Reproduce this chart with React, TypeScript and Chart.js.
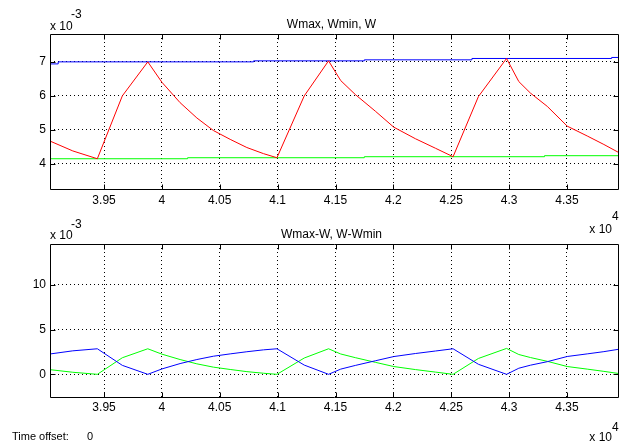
import React, { useEffect, useRef } from 'react';
import { Chart, registerables } from 'chart.js';

Chart.register(...registerables);

const FONT = '"Liberation Sans", Arial, Helvetica, sans-serif';

// ---- shared time axis (units of 10^4) ----
const xMin = 3.9033;
const xMax = 4.3941;
const xTicks = [3.95, 4.0, 4.05, 4.1, 4.15, 4.2, 4.25, 4.3, 4.35];

// ---- top panel: Wmax, Wmin, W (units of 10^-3) ----
const topYMin = 3.26;
const topYMax = 7.82;
const topYTicks = [4, 5, 6, 7];

const wTime = [
  3.9033, 3.923, 3.9442, 3.9658, 3.9878, 4.0, 4.0157, 4.0302, 4.0445, 4.059,
  4.0734, 4.0878, 4.0994, 4.123, 4.144, 4.1545, 4.1671, 4.1844, 4.2003, 4.219,
  4.2363, 4.2516, 4.2735, 4.2978, 4.3084, 4.3185, 4.333, 4.3502, 4.3675, 4.3819,
  4.3949,
];
const wValues = [
  4.67, 4.38, 4.15, 6.0, 7.0, 6.4, 5.8, 5.35, 4.98, 4.72,
  4.48, 4.3, 4.18, 6.0, 7.03, 6.45, 6.04, 5.55, 5.08, 4.74,
  4.46, 4.21, 5.98, 7.1, 6.42, 6.08, 5.69, 5.11, 4.82, 4.57,
  4.33,
];

const wmaxTime = [3.9033, 3.9104, 4.0792, 4.1749, 4.2679, 4.3886, 4.3941];
const wmaxValues = [6.94, 7.0, 7.03, 7.06, 7.1, 7.13, 7.13];

const wminTime = [3.9033, 4.0222, 4.1749, 4.3306, 4.3941];
const wminValues = [4.15, 4.18, 4.21, 4.24, 4.24];

// ---- bottom panel: Wmax-W, W-Wmin (units of 10^-3) ----
const botYMin = -2.53;
const botYMax = 14.54;
const botYTicks = [0, 5, 10];

const maxMinusW = [
  2.27, 2.62, 2.85, 1.0, 0.0, 0.6, 1.2, 1.65, 2.02, 2.28,
  2.52, 2.73, 2.85, 1.03, 0.0, 0.58, 0.99, 1.51, 1.98, 2.32,
  2.6, 2.85, 1.12, 0.0, 0.68, 1.02, 1.41, 1.99, 2.28, 2.53,
  2.8,
];
const wMinusMin = [
  0.52, 0.23, 0.0, 1.85, 2.85, 2.25, 1.65, 1.17, 0.8, 0.54,
  0.3, 0.12, 0.0, 1.82, 2.85, 2.27, 1.86, 1.34, 0.87, 0.53,
  0.25, 0.0, 1.77, 2.89, 2.21, 1.87, 1.45, 0.87, 0.58, 0.33,
  0.09,
];

const fmt = (v: number) => String(parseFloat(Number(v).toFixed(2)));

const pts = (xs: number[], ys: number[]) => xs.map((x, i) => ({ x, y: ys[i] }));

const axesBox = {
  id: 'axesBox',
  afterDraw(chart: any) {
    const { ctx, chartArea: a, scales } = chart;
    const L = Math.floor(a.left) + 0.5;
    const R = Math.floor(a.right) + 0.5;
    const T = Math.floor(a.top) + 0.5;
    const B = Math.floor(a.bottom) + 0.5;
    const len = 5;
    ctx.save();
    ctx.strokeStyle = '#000';
    ctx.lineWidth = 1;
    ctx.setLineDash([]);
    ctx.beginPath();
    ctx.rect(L, T, R - L, B - T);
    ctx.stroke();
    ctx.beginPath();
    for (const t of scales.x.ticks) {
      const px = Math.round(scales.x.getPixelForValue(t.value)) + 0.5;
      ctx.moveTo(px, B);
      ctx.lineTo(px, B - len);
      ctx.moveTo(px, T);
      ctx.lineTo(px, T + len);
    }
    for (const t of scales.y.ticks) {
      const py = Math.round(scales.y.getPixelForValue(t.value)) + 0.5;
      ctx.moveTo(L, py);
      ctx.lineTo(L + len, py);
      ctx.moveTo(R, py);
      ctx.lineTo(R - len, py);
    }
    ctx.stroke();
    ctx.restore();
  },
};

function buildConfig(
  datasets: any[],
  yMin: number,
  yMax: number,
  yTicks: number[],
  padTop: number,
  padBottom: number,
  xLabelPad: number
): any {
  const gridOpts = { color: '#000', lineWidth: 1, drawTicks: false };
  const borderOpts = { display: false, dash: [1, 3] };
  const tickFont = { family: FONT, size: 12 };
  return {
    type: 'line',
    data: { datasets },
    options: {
      animation: false,
      responsive: false,
      devicePixelRatio: 1,
      events: [],
      layout: { padding: { top: padTop, bottom: padBottom, left: 0, right: 1 } },
      plugins: {
        legend: { display: false },
        tooltip: { enabled: false },
        title: { display: false },
      },
      elements: {
        point: { radius: 0 },
        line: { tension: 0, borderWidth: 1, fill: false },
      },
      scales: {
        x: {
          type: 'linear',
          min: xMin,
          max: xMax,
          afterBuildTicks: (s: any) => {
            s.ticks = xTicks.map((v) => ({ value: v }));
          },
          afterFit: (s: any) => {
            s.height = 30;
          },
          grid: gridOpts,
          border: borderOpts,
          ticks: {
            color: '#000',
            font: tickFont,
            padding: xLabelPad,
            maxRotation: 0,
            autoSkip: false,
            callback: (v: any) => fmt(v),
          },
        },
        y: {
          type: 'linear',
          min: yMin,
          max: yMax,
          afterBuildTicks: (s: any) => {
            s.ticks = yTicks.map((v) => ({ value: v }));
          },
          afterFit: (s: any) => {
            s.width = 50;
          },
          grid: gridOpts,
          border: borderOpts,
          ticks: {
            color: '#000',
            font: tickFont,
            padding: 4,
            autoSkip: false,
            callback: (v: any) => fmt(v),
          },
        },
      },
    },
    plugins: [axesBox],
  };
}

const txt = (extra: React.CSSProperties): React.CSSProperties => ({
  position: 'absolute',
  fontFamily: FONT,
  fontSize: 12,
  lineHeight: '14px',
  color: '#000',
  whiteSpace: 'pre',
  ...extra,
});

export default function App() {
  const topRef = useRef<HTMLCanvasElement>(null);
  const botRef = useRef<HTMLCanvasElement>(null);

  useEffect(() => {
    const topChart = new Chart(
      topRef.current as HTMLCanvasElement,
      buildConfig(
        [
          { label: 'W', data: pts(wTime, wValues), borderColor: '#ff0000' },
          { label: 'Wmax', data: pts(wmaxTime, wmaxValues), borderColor: '#0000ff', stepped: 'before' },
          { label: 'Wmin', data: pts(wminTime, wminValues), borderColor: '#00ff00', stepped: 'before' },
        ],
        topYMin,
        topYMax,
        topYTicks,
        34,
        4,
        4
      )
    );
    const botChart = new Chart(
      botRef.current as HTMLCanvasElement,
      buildConfig(
        [
          { label: 'Wmax-W', data: pts(wTime, maxMinusW), borderColor: '#0000ff' },
          { label: 'W-Wmin', data: pts(wTime, wMinusMin), borderColor: '#00ff00' },
        ],
        botYMin,
        botYMax,
        botYTicks,
        21,
        19,
        3
      )
    );
    return () => {
      topChart.destroy();
      botChart.destroy();
    };
  }, []);

  return (
    <div
      style={{
        position: 'fixed',
        left: 0,
        top: 0,
        width: 619,
        height: 446,
        background: '#fff',
        overflow: 'hidden',
      }}
    >
      <canvas
        ref={topRef}
        width={619}
        height={223}
        style={{ position: 'absolute', left: 0, top: 0, width: 619, height: 223 }}
      />
      <canvas
        ref={botRef}
        width={619}
        height={223}
        style={{ position: 'absolute', left: 0, top: 223, width: 619, height: 223 }}
      />

      {/* top panel texts */}
      <span style={txt({ left: 50, top: 18.5 })}>x 10</span>
      <span style={txt({ left: 71, top: 7 })}>-3</span>
      <span style={txt({ left: 331.5, top: 17, transform: 'translateX(-50%)' })}>Wmax, Wmin, W</span>
      <span style={txt({ right: 7, top: 221.5 })}>x 10</span>
      <span style={txt({ left: 612, top: 209 })}>4</span>

      {/* bottom panel texts */}
      <span style={txt({ left: 50, top: 227.5 })}>x 10</span>
      <span style={txt({ left: 71, top: 217 })}>-3</span>
      <span style={txt({ left: 331.5, top: 227, transform: 'translateX(-50%)' })}>Wmax-W, W-Wmin</span>
      <span style={txt({ right: 7, top: 429.5 })}>x 10</span>
      <span style={txt({ left: 612, top: 420 })}>4</span>

      <span style={txt({ left: 12, top: 429, fontSize: 11 })}>Time offset:</span>
      <span style={txt({ left: 87, top: 429, fontSize: 11 })}>0</span>
    </div>
  );
}
